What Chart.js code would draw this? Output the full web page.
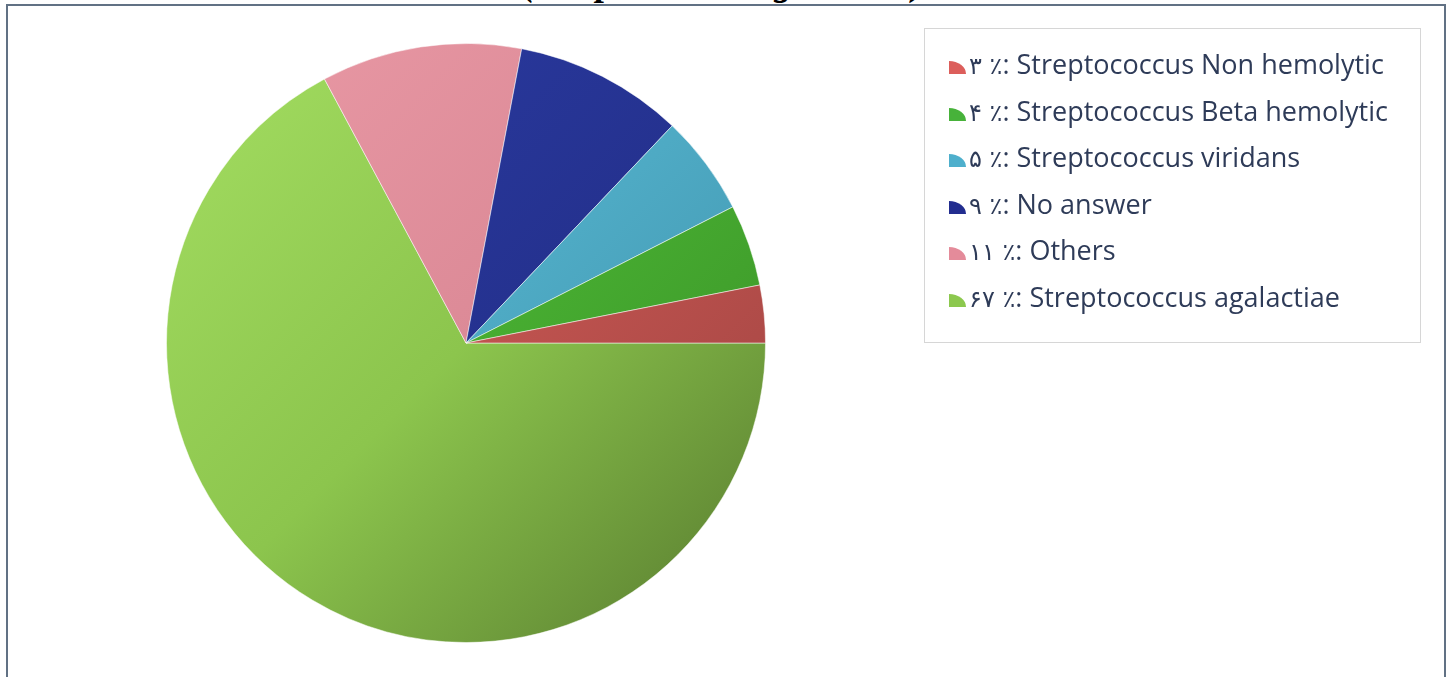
<!DOCTYPE html>
<html>
<head>
<meta charset="utf-8">
<script src="https://cdn.jsdelivr.net/npm/chart.js@4.4.1/dist/chart.umd.min.js"></script>
<style>
    html, body { margin: 0; padding: 0; background: #ffffff; overflow: hidden; }
    #page { position: relative; width: 1447px; height: 677px; overflow: hidden; }
    #title {
        position: absolute; left: 0; top: -36px; width: 1447px; text-align: center;
        font: italic bold 37px "Liberation Serif", "Times New Roman", serif; line-height: 37px; color: #000;
    }
    #frame {
        position: absolute; left: 6px; top: 4px; width: 1436px; height: 700px;
        border: 2px solid #617184; box-sizing: content-box;
    }
    #chartWrap { position: absolute; left: 0; top: 0; width: 1447px; height: 677px; }
    #legendBox {
        position: absolute; left: 924px; top: 28px; width: 497px; height: 315px;
        border: 1px solid #d6d6d6; box-sizing: border-box; padding-top: 12px; padding-left: 24px;
        font-family: "Open Sans", "DejaVu Sans", sans-serif; font-size: 27px; color: #2e3b58;
    }
    .legend-row { height: 46.5px; line-height: 46.5px; white-space: nowrap; }
    .legend-mark {
        display: inline-block; width: 17px; height: 13px; margin-right: 3px;
        border-top-right-radius: 100% 100%; vertical-align: baseline;
    }
    .legend-pct { font-family: "DejaVu Sans", sans-serif; font-size: 24px; }
</style>
</head>
<body>
<div id="page">
    <div id="frame"></div>
    <div id="title">(Streptococcus agalactiae)</div>
    <div id="chartWrap"><canvas id="pieChart" width="1447" height="677"></canvas></div>
    <div id="legendBox"></div>
</div>
<script>
// legend order (top to bottom)
const categories = [
    'Streptococcus Non hemolytic',
    'Streptococcus Beta hemolytic',
    'Streptococcus viridans',
    'No answer',
    'Others',
    'Streptococcus agalactiae'
];
const percentLabels = ['۳', '۴', '۵', '۹', '۱۱', '۶۷'];
// slice sizes (percent)
const sliceValues = [3.1, 4.4, 5.4, 9.1, 10.8, 67.1];

// shading of each slice: upper left, middle, lower right
const lightColors = ['#e4625e', '#54c43b', '#58c0dc', '#2b3ca4', '#ea9aa6', '#a4de62'];
const midColors = ['#c0534f', '#47ad31', '#4eaac4', '#253290', '#dc8a97', '#8cc54d'];
const darkColors = ['#9c4240', '#388c25', '#3c8ca4', '#1b246c', '#bd727e', '#56792e'];
const legendColors = ['#dc5e5b', '#47b23a', '#4eafcc', '#222d8f', '#e48b9a', '#8cc84e'];

// the pie runs counter-clockwise from 3 o'clock, so feed it reversed
const order = categories.map((_, i) => i).reverse();

function sliceGradient(context) {
    const chart = context.chart;
    const area = chart.chartArea;
    const idx = order[context.dataIndex];
    if (!area) return legendColors[idx];
    const g = chart.ctx.createLinearGradient(166, 43, 766, 643);
    g.addColorStop(0, lightColors[idx]);
    g.addColorStop(0.5, midColors[idx]);
    g.addColorStop(1, darkColors[idx]);
    return g;
}

const htmlLegend = {
    id: 'htmlLegend',
    afterUpdate(chart) {
        const box = document.getElementById('legendBox');
        box.innerHTML = '';
        categories.forEach((name, i) => {
            const row = document.createElement('div');
            row.className = 'legend-row';
            const mark = document.createElement('span');
            mark.className = 'legend-mark';
            mark.style.background = legendColors[i];
            const pct = document.createElement('span');
            pct.className = 'legend-pct';
            pct.textContent = percentLabels[i] + ' ٪';
            const txt = document.createElement('span');
            txt.textContent = ': ' + name;
            row.appendChild(mark);
            row.appendChild(pct);
            row.appendChild(txt);
            box.appendChild(row);
        });
    }
};

new Chart(document.getElementById('pieChart').getContext('2d'), {
    type: 'pie',
    data: {
        labels: order.map(i => categories[i]),
        datasets: [{
            data: order.map(i => sliceValues[i]),
            backgroundColor: sliceGradient,
            borderColor: 'rgba(255, 255, 255, 0.5)',
            borderWidth: 1
        }]
    },
    options: {
        responsive: false,
        animation: false,
        rotation: 90,
        layout: { padding: { left: 8, top: 43, right: 523, bottom: 34 } },
        plugins: {
            legend: { display: false },
            tooltip: { enabled: false }
        },
        events: []
    },
    plugins: [htmlLegend]
});
</script>
</body>
</html>
